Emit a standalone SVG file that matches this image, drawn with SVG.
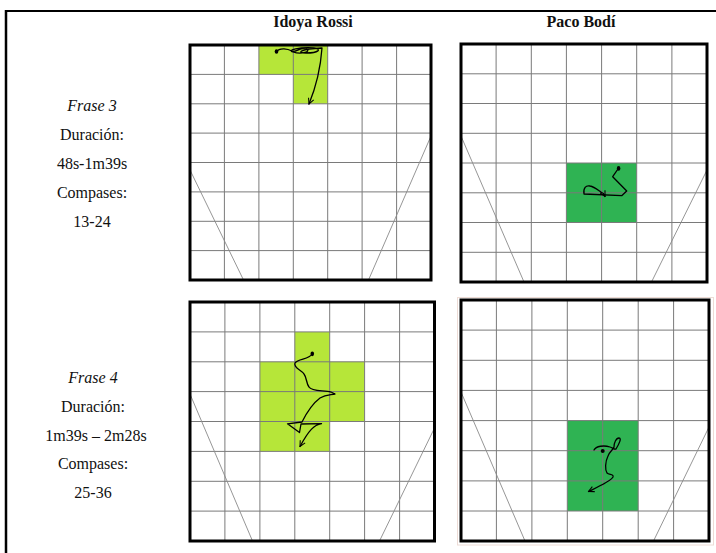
<svg xmlns="http://www.w3.org/2000/svg" width="716" height="553" viewBox="0 0 716 553">
<defs>
<style>
.hdr{font-family:"Liberation Serif","DejaVu Serif",serif;font-size:16px;font-weight:bold;text-anchor:middle;fill:#111}
.lbl{font-family:"Liberation Serif","DejaVu Serif",serif;font-size:16px;text-anchor:middle;fill:#111}
.it{font-style:italic}
.grid line{stroke:#7a7a7a;stroke-width:1}
.diag{stroke:#8a8a8a;stroke-width:0.9;fill:none}
.frame{fill:none;stroke:#000;stroke-width:3}
.lg{fill:#b6e639}
.dg{fill:#2fb353}
.trail{fill:none;stroke:#000;stroke-width:1.3;stroke-linejoin:round;stroke-linecap:round;marker-end:url(#arr)}
</style>
<marker id="arr" viewBox="0 0 10 10" refX="9" refY="5" markerWidth="7" markerHeight="7" markerUnits="userSpaceOnUse" orient="auto">
<path d="M1,1 L9,5 L1,9" fill="none" stroke="#000" stroke-width="1.5"/>
</marker>
</defs>
<rect width="716" height="553" fill="#fff"/>
<g id="table">
<line x1="6" y1="11" x2="716" y2="11" stroke="#000" stroke-width="2"/>
<line x1="6" y1="10" x2="6" y2="553" stroke="#000" stroke-width="2.5"/>
</g>
<g id="headers">
<text class="hdr" x="313" y="27">Idoya Rossi</text>
<text class="hdr" x="581" y="27">Paco Bodí</text>
</g>
<g id="label-frase3">
<text class="lbl it" x="92" y="111">Frase 3</text>
<text class="lbl" x="92" y="140">Duración:</text>
<text class="lbl" x="92" y="169">48s-1m39s</text>
<text class="lbl" x="92" y="198">Compases:</text>
<text class="lbl" x="92" y="227">13-24</text>
</g>
<g id="label-frase4">
<text class="lbl it" x="93" y="383">Frase 4</text>
<text class="lbl" x="93" y="412">Duración:</text>
<text class="lbl" x="96" y="441">1m39s – 2m28s</text>
<text class="lbl" x="93" y="469">Compases:</text>
<text class="lbl" x="93" y="498">25-36</text>
</g>

<g id="grid-idoya-3">
<path class="lg" d="M258.9,45 H327.7 V103.8 H293.3 V74.4 H258.9 Z"/>
<g class="grid">
<line x1="224.4" y1="45" x2="224.4" y2="280"/><line x1="258.9" y1="45" x2="258.9" y2="280"/><line x1="293.3" y1="45" x2="293.3" y2="280"/><line x1="327.7" y1="45" x2="327.7" y2="280"/><line x1="362.1" y1="45" x2="362.1" y2="280"/><line x1="396.6" y1="45" x2="396.6" y2="280"/>
<line x1="190" y1="74.4" x2="431" y2="74.4"/><line x1="190" y1="103.8" x2="431" y2="103.8"/><line x1="190" y1="133.1" x2="431" y2="133.1"/><line x1="190" y1="162.5" x2="431" y2="162.5"/><line x1="190" y1="191.9" x2="431" y2="191.9"/><line x1="190" y1="221.3" x2="431" y2="221.3"/><line x1="190" y1="250.6" x2="431" y2="250.6"/>
</g>
<line class="diag" x1="190" y1="170" x2="243.5" y2="280"/>
<line class="diag" x1="431" y1="136" x2="368.5" y2="280"/>
<path class="trail" d="M276,52 C280,47 288,49 292,51 C296,53 300,47 306,49 C312,51 302,55 293,52 C286,50 300,47 314,48 C322,49 319,53 306,53 C296,53 300,49 322,48 C321,62 318,82 309,104"/>
<ellipse cx="276.5" cy="51.5" rx="1.8" ry="2.2" fill="#000"/>
<rect class="frame" x="190" y="45" width="241" height="235"/>
</g>

<g id="grid-paco-3">
<rect class="dg" x="566.4" y="163" width="70.3" height="59.5"/>
<g class="grid">
<line x1="496.1" y1="44" x2="496.1" y2="282"/><line x1="531.3" y1="44" x2="531.3" y2="282"/><line x1="566.4" y1="44" x2="566.4" y2="282"/><line x1="601.6" y1="44" x2="601.6" y2="282"/><line x1="636.7" y1="44" x2="636.7" y2="282"/><line x1="671.9" y1="44" x2="671.9" y2="282"/>
<line x1="461" y1="73.8" x2="707" y2="73.8"/><line x1="461" y1="103.5" x2="707" y2="103.5"/><line x1="461" y1="133.3" x2="707" y2="133.3"/><line x1="461" y1="163" x2="707" y2="163"/><line x1="461" y1="192.8" x2="707" y2="192.8"/><line x1="461" y1="222.5" x2="707" y2="222.5"/><line x1="461" y1="252.3" x2="707" y2="252.3"/>
</g>
<line class="diag" x1="461" y1="136" x2="524" y2="282"/>
<line class="diag" x1="707" y1="170" x2="651.5" y2="282"/>
<path class="trail" d="M618.3,168.5 L612.7,176.7 L626.7,191 L621.7,195.7 L584,194 C583,188 586,185 590,186 C595,187 599,191 603.5,193.5 L605,196.5"/>
<ellipse cx="618.6" cy="168.4" rx="1.8" ry="2.4" fill="#000"/>
<rect class="frame" x="461" y="44" width="246" height="238"/>
</g>

<g id="grid-idoya-4">
<path class="lg" d="M294.8,331.9 H329.7 V361.8 H364.6 V421.5 H329.7 V451.3 H260 V361.8 H294.8 Z"/>
<g class="grid">
<line x1="224.9" y1="302" x2="224.9" y2="541"/><line x1="259.9" y1="302" x2="259.9" y2="541"/><line x1="294.8" y1="302" x2="294.8" y2="541"/><line x1="329.7" y1="302" x2="329.7" y2="541"/><line x1="364.6" y1="302" x2="364.6" y2="541"/><line x1="399.6" y1="302" x2="399.6" y2="541"/>
<line x1="190" y1="331.9" x2="434.5" y2="331.9"/><line x1="190" y1="361.8" x2="434.5" y2="361.8"/><line x1="190" y1="391.6" x2="434.5" y2="391.6"/><line x1="190" y1="421.5" x2="434.5" y2="421.5"/><line x1="190" y1="451.4" x2="434.5" y2="451.4"/><line x1="190" y1="481.3" x2="434.5" y2="481.3"/><line x1="190" y1="511.1" x2="434.5" y2="511.1"/>
</g>
<line class="diag" x1="190" y1="394" x2="252.5" y2="541"/>
<line class="diag" x1="434.5" y1="428" x2="379.5" y2="541"/>
<path class="trail" d="M312,354 C309,360 298,358 295,363 C293,368 302,370 304,374 C307,378 306,383 309,387 C312,392 324,390 331,392 L335,394 C330,395 326,394 320,398 C312,404 306,414 302,422 L287.5,423.8 L299.5,432.5 L301,424 L321.5,423.7 C314,425 309,430 300,446.5"/>
<ellipse cx="312.3" cy="353.8" rx="1.8" ry="2.4" fill="#000"/>
<rect class="frame" x="190" y="302" width="244.5" height="239"/>
</g>

<g id="grid-paco-4">
<rect x="457.5" y="297.5" width="256" height="247.5" fill="none" stroke="#eddcd6" stroke-width="1"/>
<rect class="dg" x="567.3" y="420.6" width="70.9" height="90.4"/>
<g class="grid">
<line x1="496.4" y1="300" x2="496.4" y2="541"/><line x1="531.9" y1="300" x2="531.9" y2="541"/><line x1="567.3" y1="300" x2="567.3" y2="541"/><line x1="602.7" y1="300" x2="602.7" y2="541"/><line x1="638.2" y1="300" x2="638.2" y2="541"/><line x1="673.6" y1="300" x2="673.6" y2="541"/>
<line x1="461" y1="330.1" x2="709" y2="330.1"/><line x1="461" y1="360.3" x2="709" y2="360.3"/><line x1="461" y1="390.4" x2="709" y2="390.4"/><line x1="461" y1="420.6" x2="709" y2="420.6"/><line x1="461" y1="450.7" x2="709" y2="450.7"/><line x1="461" y1="480.9" x2="709" y2="480.9"/><line x1="461" y1="511" x2="709" y2="511"/>
</g>
<line class="diag" x1="461" y1="392" x2="525" y2="541"/>
<line class="diag" x1="709" y1="427" x2="653.5" y2="541"/>
<path class="trail" d="M594,450 C596,446 604,445 610,447 C613,448 615,450 616,449 C619,444 622,438 619,438 C616,438 614,443 614,447 C613,450 609,452 608,456 C605,462 605,470 607,473 C609,475 614,474 613,477 C611,481 600,486 588.5,491.5"/>
<ellipse cx="602.7" cy="451" rx="2" ry="2" fill="#000"/>
<rect class="frame" x="461" y="300" width="248" height="241"/>
</g>
</svg>
